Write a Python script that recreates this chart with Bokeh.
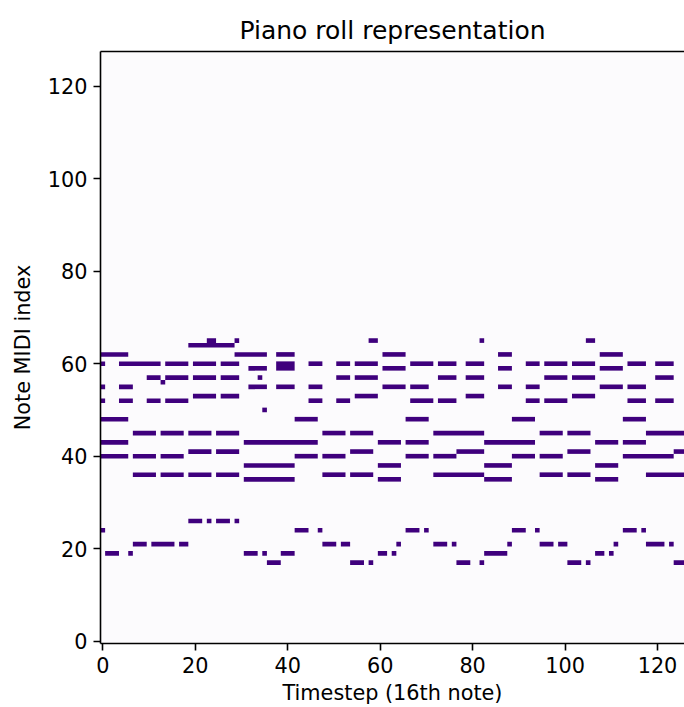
from bokeh.plotting import figure
from bokeh.models import ColumnDataSource, LinearAxis, FixedTicker, Range1d
from bokeh.embed import file_html
from bokeh.resources import INLINE

# Notes read from the piano roll: (pitch, first timestep, last timestep)
note_pitch = [
    65, 65, 65, 65, 65,
    64,
    62, 62, 62, 62, 62, 62,
    60, 60, 60, 60, 60, 60, 60, 60, 60, 60, 60, 60, 60, 60, 60, 60, 60,
    59, 59, 59, 59, 59,
    57, 57, 57, 57, 57, 57, 57, 57, 57, 57, 57, 57,
    56,
    55, 55, 55, 55, 55, 55, 55, 55, 55, 55, 55,
    53, 53, 53, 53, 53,
    52, 52, 52, 52, 52, 52, 52, 52, 52, 52, 52, 52,
    50,
    48, 48, 48, 48, 48,
    45, 45, 45, 45, 45, 45, 45, 45, 45, 45,
    43, 43, 43, 43, 43, 43, 43,
    41, 41, 41, 41, 41, 41,
    40, 40, 40, 40, 40, 40, 40, 40, 40, 40,
    38, 38, 38, 38,
    36, 36, 36, 36, 36, 36, 36, 36, 36, 36,
    35, 35, 35, 35,
    26, 26, 26, 26,
    24, 24, 24, 24, 24, 24, 24, 24, 24,
    21, 21, 21, 21, 21, 21, 21, 21, 21, 21, 21, 21, 21, 21,
    19, 19, 19, 19, 19, 19, 19, 19, 19, 19,
    17, 17, 17, 17, 17, 17, 17, 17,
]
note_start = [
    23, 29, 58, 82, 105,
    19,
    0, 29, 38, 61, 86, 108,
    0, 4, 14, 20, 26, 38, 45, 51, 55, 67, 73, 79, 92, 96, 102, 114, 120,
    32, 38, 61, 86, 108,
    10, 14, 20, 26, 34, 51, 55, 73, 79, 96, 102, 120,
    13,
    0, 4, 32, 38, 45, 61, 67, 86, 92, 108, 114,
    20, 26, 55, 79, 102,
    0, 4, 10, 14, 45, 51, 67, 73, 92, 96, 114, 120,
    35,
    0, 42, 66, 89, 113,
    7, 13, 19, 25, 48, 54, 72, 95, 101, 118,
    0, 31, 60, 66, 83, 107, 113,
    19, 25, 54, 77, 101, 124,
    0, 7, 13, 42, 48, 66, 72, 89, 95, 113,
    31, 60, 83, 107,
    7, 13, 19, 25, 48, 54, 72, 95, 101, 118,
    31, 60, 83, 107,
    19, 23, 25, 29,
    0, 42, 47, 66, 70, 89, 94, 113, 117,
    7, 11, 17, 48, 52, 64, 72, 76, 88, 95, 99, 111, 118, 123,
    1, 6, 31, 35, 39, 60, 63, 83, 107, 110,
    36, 54, 58, 77, 82, 101, 105, 124,
]
note_end = [
    24, 29, 59, 82, 106,
    28,
    5, 35, 41, 65, 88, 112,
    0, 12, 18, 24, 29, 41, 47, 53, 59, 71, 76, 82, 94, 100, 106, 117, 123,
    35, 41, 65, 88, 112,
    12, 18, 24, 29, 34, 53, 59, 76, 82, 100, 106, 123,
    13,
    0, 6, 35, 41, 47, 65, 70, 88, 94, 112, 117,
    24, 29, 59, 82, 106,
    0, 6, 12, 18, 47, 53, 71, 76, 94, 100, 117, 123,
    35,
    5, 46, 70, 93, 117,
    11, 17, 23, 29, 52, 58, 82, 99, 105, 127,
    5, 46, 64, 70, 93, 111, 117,
    23, 29, 58, 82, 105, 127,
    5, 11, 17, 46, 52, 70, 76, 93, 99, 123,
    41, 64, 88, 111,
    11, 17, 23, 29, 52, 58, 82, 99, 105, 127,
    41, 64, 88, 111,
    21, 23, 27, 29,
    0, 44, 47, 68, 70, 91, 94, 115, 117,
    9, 15, 18, 50, 53, 64, 74, 76, 88, 97, 100, 111, 121, 123,
    3, 6, 33, 35, 41, 61, 63, 87, 108, 110,
    38, 56, 58, 79, 82, 103, 105, 127,
]
x_ticks = [0, 20, 40, 60, 80, 100, 120]
y_ticks = [0, 20, 40, 60, 80, 100, 120]
n_pitches = 128

FONT = "DejaVu Sans"
NOTE_COLOR = "#3f007d"
EMPTY_COLOR = "#fcfbfd"

src = ColumnDataSource(dict(
    left=[s - 0.5 for s in note_start],
    right=[e + 0.5 for e in note_end],
    bottom=[q - 0.5 for q in note_pitch],
    top=[q + 0.5 for q in note_pitch],
))

frame_w = 584
px_per_step = 4.6225
p = figure(width=684, height=707, output_backend="svg", toolbar_location=None,
           x_range=Range1d(-0.5, -0.5 + frame_w / px_per_step),
           y_range=Range1d(-0.5, n_pitches - 0.5),
           min_border_left=100, min_border_right=0,
           min_border_top=51, min_border_bottom=64)
p.grid.visible = False
p.outline_line_color = None
p.background_fill_color = EMPTY_COLOR
p.border_fill_color = "white"

p.quad(left="left", right="right", bottom="bottom", top="top", source=src,
       fill_color=NOTE_COLOR, line_color=None)

for ax in (p.xaxis[0], p.yaxis[0]):
    ax.axis_line_width = 1.6
    ax.axis_line_color = "black"
    ax.major_tick_line_width = 1.6
    ax.major_tick_line_color = "black"
    ax.major_tick_in = 0
    ax.major_tick_out = 7
    ax.minor_tick_line_color = None
    ax.major_label_text_font = FONT
    ax.major_label_text_font_size = "20.8px"
    ax.major_label_text_color = "black"
    ax.major_label_standoff = 6
    ax.axis_label_text_font = FONT
    ax.axis_label_text_font_size = "20.8px"
    ax.axis_label_text_font_style = "normal"
    ax.axis_label_text_color = "black"

p.xaxis.ticker = FixedTicker(ticks=x_ticks)
p.yaxis.ticker = FixedTicker(ticks=y_ticks)
p.xaxis.axis_label = "Timestep (16th note)"
p.yaxis.axis_label = "Note MIDI index"
p.xaxis.axis_label_standoff = 5
p.yaxis.axis_label_standoff = 10

top_spine = LinearAxis(ticker=FixedTicker(ticks=[]), axis_line_width=1.6,
                       axis_line_color="black", major_tick_line_color=None,
                       minor_tick_line_color=None, major_label_text_font_size="0px")
p.add_layout(top_spine, "above")

p.title.text = "Piano roll representation"
p.title.text_font = FONT
p.title.text_font_size = "25px"
p.title.text_font_style = "normal"
p.title.text_color = "black"
p.title.align = "center"
p.title.offset = 3
p.title.standoff = 14

open("out.html", "w").write(file_html(p, INLINE))
